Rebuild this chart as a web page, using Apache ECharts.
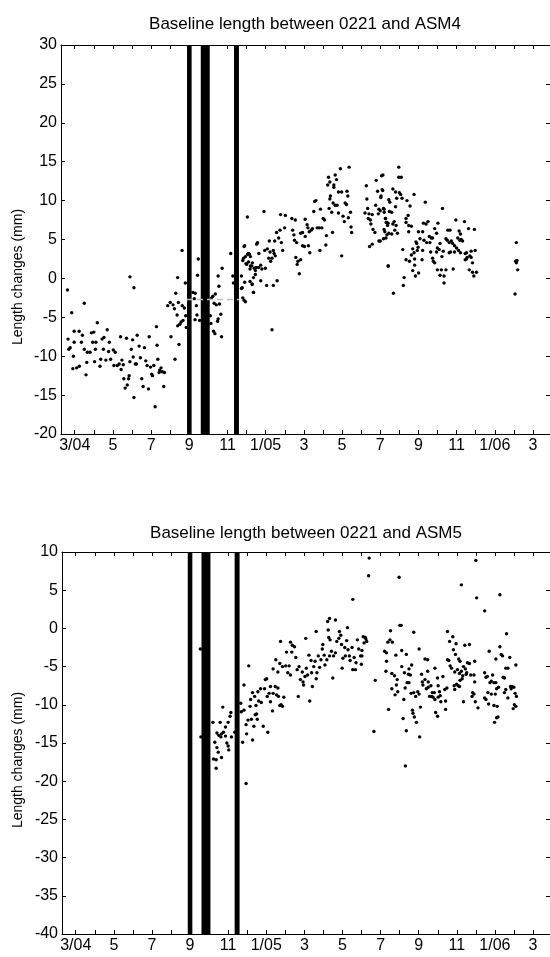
<!DOCTYPE html>
<html><head><meta charset="utf-8">
<script src="https://cdn.jsdelivr.net/npm/echarts@6/dist/echarts.min.js"></script>
<style>html,body{margin:0;padding:0;background:#fff}#c{width:550px;height:957px}</style>
</head><body><div id="c"></div>
<script>
// ---- axis ticks / labels (x = month index, 3 = March 2004) ----
const tickMonths = [3,4,5,6,7,8,9,10,11,12,13,14,15,16,17,18,19,20,21,22,23,24,25,26,27];
const labelMonths = [3,5,7,9,11,13,15,17,19,21,23,25,27];
const tickLabels = ['3/04','5','7','9','11','1/05','3','5','7','9','11','1/06','3'];
const titles = ['Baseline length between 0221 and ASM4', 'Baseline length between 0221 and ASM5'];
const yName = 'Length changes (mm)';
const asm4Range = [-20, 30];
const asm5Range = [-40, 10];
// black gap bars (month index)
const gapStarts = [8.88, 9.60, 11.34];
const gapEnds   = [9.12, 10.07, 11.60];
// faint reference line in upper panel
const asm4RefLine = [[8.88, -2.7], [11.60, -2.7]];

// ---- ASM4 baseline length changes [month, mm] ----
const asm4Points = [
[2.62,-1.5],[2.84,-4.4],[3.5,-3.2],
[2.65,-7.8],[2.97,-6.8],[3.23,-6.8],[2.76,-8.9],[2.97,-8.2],[2.69,-9.1],[2.93,-10.0],[2.9,-11.6],[3.1,-11.5],[3.24,-11.3],[3.35,-8.2],[3.4,-7.3],[3.5,-9.1],[3.59,-12.4],[3.63,-10.8],[3.66,-9.5],[3.8,-9.5],[3.87,-7.0],[3.94,-8.2],[4.0,-6.9],[4.04,-10.7],[4.08,-9.1],[4.18,-5.7],[4.11,-8.2],[4.32,-11.3],[4.36,-10.4],[4.43,-7.8],[4.5,-9.1],[4.53,-7.6],[4.63,-10.5],[4.7,-6.6],[4.77,-9.4],[4.81,-8.2],[4.88,-10.4],[5.02,-9.2],[5.05,-11.2],[5.12,-9.5],[5.23,-11.2],[5.33,-11.0],[5.4,-7.5],[5.43,-11.7],[5.47,-10.5],[5.54,-11.1],[5.57,-12.9],[5.64,-14.1],[5.71,-7.7],[5.75,-13.7],[5.82,-12.9],[5.85,-12.5],[5.89,-10.7],[5.96,-9.1],[6.03,-7.9],[6.06,-10.1],[6.1,-15.3],[6.17,-11.0],[6.23,-11.0],[6.27,-7.3],[6.37,-8.7],[6.44,-10.2],[6.51,-12.9],[6.58,-13.9],[6.65,-8.9],[6.72,-10.6],[6.79,-11.2],[6.86,-14.2],[6.9,-7.5],[6.97,-11.4],[7.03,-12.3],[7.07,-12.5],[7.14,-11.2],[7.21,-16.5],[7.28,-6.2],[7.31,-8.6],[7.35,-10.4],[7.42,-12.1],[7.45,-11.8],[7.52,-11.5],[7.59,-12.0],[7.66,-13.9],[7.7,-12.1],
[5.89,0.2],[6.1,-1.2],
[7.87,-3.5],[8.0,-3.1],[8.04,-7.5],[8.15,-3.4],[8.22,-3.9],[8.29,-1.9],[8.25,-10.4],[8.36,-4.7],[8.39,-6.1],[8.43,-3.1],[8.46,-8.5],[8.5,-5.9],[8.57,-5.6],[8.63,-3.5],[8.67,-5.4],[8.74,-3.8],[8.81,-4.8],[8.84,-6.3],[8.62,3.6],[8.79,-0.6],[8.39,0.1],
[9.19,-1.8],[9.26,-2.6],[9.3,-5.3],[9.37,-3.5],[9.43,0.4],[9.47,2.5],[9.4,-4.7],[9.54,-5.4],[9.31,-1.9],
[10.1,-4.8],[10.13,-5.8],[10.17,-2.5],[10.23,-2.3],[10.3,-3.2],[10.36,-2.0],[10.41,-3.4],[10.48,-5.5],[10.51,-5.2],[10.55,-1.0],[10.58,-3.3],[10.65,-4.6],[10.69,-7.5],[10.72,1.3],[10.27,-6.8],[10.34,-7.1],[10.51,0.3],
[11.17,3.2],[11.28,0.3],[11.31,-0.6],
[11.73,0.3],[11.8,2.3],[11.87,4.1],[11.94,2.8],[12.0,1.8],[12.1,3.2],[12.18,1.2],[12.27,1.6],[12.36,-1.8],[12.29,-0.8],[12.46,1.0],[12.53,4.4],[12.63,1.4],[11.8,-2.5],[11.94,-3.0],[11.73,-1.3],
[12.04,7.9],[12.91,8.6],[11.9,4.2],[12.05,3.1],[12.15,3.1],[12.2,2.8],[11.84,2.6],[11.97,1.9],[12.1,2.1],[12.2,1.6],[12.3,2.0],[12.4,1.3],[12.5,1.4],[12.57,4.6],[12.64,3.2],[12.74,1.7],[12.8,1.2],[12.98,1.3],[12.46,0.5],[12.36,0.1],[12.29,-0.7],[12.18,-0.4],[11.9,-0.5],[11.77,-1.2],[11.87,-2.8],[12.36,-1.8],[12.74,-0.3],[13.05,-0.9],[13.4,-0.9],[13.6,-0.3],
[12.95,3.6],[13.09,3.8],[13.19,4.8],[13.23,3.4],[13.33,2.6],[13.4,3.6],[13.5,2.9],[13.47,4.8],[13.57,5.9],[13.68,5.2],[13.75,6.2],[13.82,4.6],[13.89,3.6],[13.99,6.5],[13.78,8.2],[14.03,8.1],[13.16,2.6],[13.26,2.2],[13.44,3.2],[13.33,-6.6],
[14.37,7.7],[14.55,7.5],[14.41,6.2],[14.48,5.6],[14.51,4.9],[14.62,4.6],[14.58,2.7],[14.69,2.2],[14.83,2.4],[14.65,1.8],[14.76,0.6],[14.83,5.8],[14.93,5.9],[15.07,5.4],[14.93,4.2],[15.03,4.1],[15.07,7.6],[15.21,6.5],[15.28,6.0],[15.38,6.2],[15.17,6.9],[15.45,6.4],[15.24,4.2],[15.31,3.3],
[15.56,9.9],[15.63,10.0],[15.52,8.6],[15.7,6.5],[15.8,6.5],[15.94,6.5],[15.84,3.6],[15.87,8.9],[16.01,7.7],[16.08,7.5],[16.18,5.5],[16.15,4.3],[16.32,9.0],[16.36,10.2],[16.39,10.6],[16.46,8.5],[16.5,5.9],[16.53,9.7],[16.25,12.0],[16.29,13.0],[16.36,12.4],[16.57,11.7],[16.64,13.3],[16.71,12.7],[16.57,12.0],[16.64,9.4],[16.74,9.4],[16.81,11.1],[16.91,14.1],[16.81,8.4],[16.98,11.1],[17.05,8.0],[17.12,7.3],[17.23,9.5],[17.26,11.2],[17.3,10.6],[17.33,7.8],[17.37,14.3],[17.44,8.5],[16.98,2.9],[17.47,6.6],[17.5,5.9],[17.16,9.7],
[18.27,11.9],[18.3,10.2],[18.34,9.0],[18.2,8.4],[18.37,7.7],[18.41,8.3],[18.48,7.5],[18.58,8.2],[18.51,7.0],[18.62,6.3],[18.72,5.9],[18.76,9.4],[18.79,12.6],[18.86,11.2],[18.9,8.3],[18.93,8.9],[19.0,8.7],[19.04,10.6],[19.07,13.2],[19.14,13.3],[19.1,11.4],[19.17,9.0],[19.21,8.5],[19.28,7.7],[19.24,6.0],[19.31,7.2],[19.35,5.6],[19.38,6.8],[19.42,1.6],[18.44,4.1],[18.58,4.4],[18.93,4.8],[19.17,5.1],
[19.97,14.3],[19.97,13.0],[20.1,13.0],[19.13,11.3],[19.66,11.5],[19.8,11.1],[20.0,11.0],[20.07,10.8],[19.03,10.4],[19.45,10.1],[19.5,9.8],[19.86,10.3],[20.14,10.3],[20.4,10.0],[20.56,9.3],[20.77,10.8],[21.36,9.8],[22.26,9.0],[19.2,8.9],[19.48,8.6],[19.6,8.5],[19.8,9.2],[20.46,8.1],[19.27,7.7],[19.34,7.2],[19.41,7.1],[19.73,7.3],[19.66,7.0],[19.83,6.8],[20.35,7.7],[20.35,7.2],[20.49,6.8],[20.63,6.7],[19.2,6.3],[19.45,5.8],[19.6,5.7],[19.76,6.2],[19.9,5.8],[19.3,5.2],[19.0,4.8],
[20.49,6.0],[21.0,6.0],[21.22,6.0],[21.26,7.1],[21.4,7.0],[21.5,7.3],[22.02,7.1],[21.85,6.4],[21.95,5.8],[22.54,6.2],[22.65,6.2],[22.96,7.5],[23.41,7.3],[23.62,6.4],[23.93,6.3],[23.13,6.1],[23.2,5.7],
[20.87,4.7],[20.91,4.5],[21.08,5.1],[21.29,4.9],[21.43,4.6],[21.57,5.4],[21.67,5.2],[21.6,4.6],[21.74,5.2],[20.18,3.7],[20.7,3.8],[20.77,3.3],[20.98,4.0],[20.94,3.6],[21.22,3.6],[22.13,4.5],[21.99,3.9],[22.09,3.7],[22.44,5.1],[22.51,4.9],[22.61,4.6],[22.72,4.8],[22.79,4.5],[22.89,4.2],[23.0,3.9],[23.06,5.2],[23.17,4.9],[23.24,5.0],[23.31,4.8],
[21.64,3.4],[21.95,3.4],[22.3,3.5],[22.61,3.3],[22.68,3.4],[22.89,3.4],[23.1,3.6],[23.2,3.3],[23.45,3.2],[23.52,3.3],[23.76,3.5],[23.97,3.6],[23.69,2.9],[23.55,2.7],[23.52,2.5],[23.45,2.4],[23.76,2.7],[23.83,2.0],
[20.35,2.4],[20.53,2.2],[20.63,3.0],[20.8,2.5],[20.8,1.7],[21.19,2.4],[21.74,2.6],[21.78,2.2],[21.85,2.0],[22.23,2.8],[19.41,1.6],[20.7,1.0],[20.84,0.3],[21.01,0.7],[21.99,1.1],[22.2,1.1],[22.44,1.1],[22.82,1.2],[22.13,0.4],[22.34,0.3],[23.66,1.1],[23.83,0.8],[24.04,0.8],[23.9,0.3],[20.25,0.1],[20.21,-0.9],[22.34,-0.6],[19.69,-1.9],
[26.13,4.6],[26.09,2.2],[26.13,2.0],[26.16,2.3],[26.2,1.1],[26.06,-2.0]
];

// ---- ASM5 baseline length changes [month, mm] ----
const asm5Points = [
[9.54,-2.7],[9.57,-14.2],
[10.72,-10.3],[10.2,-12.3],[10.58,-12.3],[10.86,-12.9],[11.0,-12.3],[11.14,-11.0],[11.1,-11.5],[10.41,-13.7],[10.51,-14.0],[10.65,-13.8],[10.75,-13.6],[10.86,-14.1],[10.62,-14.2],[11.17,-14.2],[11.35,-13.6],[10.3,-14.9],[10.41,-15.6],[10.48,-16.2],[10.93,-15.0],[11.0,-15.4],[11.03,-15.9],[10.65,-16.9],[10.23,-17.1],[10.37,-17.2],[10.37,-18.3],
[11.66,-9.8],[11.69,-10.9],[11.83,-10.7],[11.94,-12.6],[11.97,-13.8],[11.76,-14.9],[12.04,-12.0],[12.15,-10.2],[12.18,-9.3],[12.22,-11.9],[12.28,-14.6],[12.35,-12.8],[12.42,-11.3],[12.46,-10.1],[12.49,-11.2],[12.53,-11.9],[12.08,-4.9],[11.83,-7.4],[11.94,-20.3],
[12.28,-8.4],[12.39,-8.9],[12.56,-8.3],[12.6,-9.5],[12.7,-7.9],[12.74,-9.7],[12.84,-12.8],[12.91,-7.9],[12.95,-6.7],[13.02,-6.6],[13.08,-13.6],[13.05,-8.9],[13.15,-8.5],[13.22,-7.6],[13.22,-9.6],[13.33,-10.8],[13.36,-8.5],[13.47,-7.6],[13.54,-8.7],[13.61,-7.8],[13.64,-8.9],[13.71,-10.1],[13.78,-10.0],[13.85,-10.2],[13.92,-9.0],
[13.36,-5.3],[13.5,-4.1],[13.61,-5.7],[13.71,-4.6],[13.75,-1.7],[13.85,-5.0],[14.02,-4.9],[14.06,-3.1],[14.13,-5.8],[14.2,-4.9],[14.27,-6.1],[14.27,-1.8],[14.37,-2.2],[14.34,-3.1],[14.48,-2.4],[14.55,-3.8],[14.62,-5.4],[14.72,-5.0],[14.79,-6.7],[14.68,-8.9],[14.89,-5.7],[14.93,-7.0],[14.96,-7.4],[15.03,-6.3],[15.07,-1.3],[15.1,-5.2],[15.17,-6.1],[15.24,-3.5],[15.28,-9.5],[15.35,-4.2],[15.38,-5.8],[15.42,-7.6],[15.49,-5.0],[15.56,-4.3],[15.62,-0.4],[15.62,-6.6],[15.66,-5.8],
[15.73,-3.6],[15.8,-5.1],[15.87,-4.1],[15.94,-2.7],[15.97,-2.1],[16.04,-3.5],[16.08,-4.8],[16.18,-4.1],[16.25,-0.2],[16.28,-1.2],[16.35,-1.5],[16.32,-3.6],[16.42,-3.0],[16.49,-6.5],[16.53,-3.6],[16.63,1.1],[16.63,-3.2],[16.7,-1.7],[16.81,-1.3],[16.84,-0.4],[16.91,-0.9],[16.95,-2.1],[16.98,-5.2],[17.02,-3.9],[17.12,-2.5],[17.15,-3.6],[17.22,-1.6],[17.26,0.1],[17.29,-2.8],[17.36,-3.6],[17.4,-4.2],[17.5,-2.5],[17.54,-5.4],[17.61,-3.8],[17.68,-5.4],[17.71,-4.5],[17.78,-1.5],[17.85,-2.7],[17.95,-3.6],[17.99,-4.7],[18.02,-2.9],[18.09,-1.1],[18.13,-1.9],[18.2,-1.2],[16.22,0.9],[16.32,1.3],[17.54,3.8],[18.37,6.9],[18.4,9.2],
[18.23,-1.4],[18.27,-1.7],[18.02,-3.6],[18.72,-6.8],[18.65,-13.5],
[19.97,6.7],[23.24,5.7],[24.0,8.9],[24.04,4.0],[24.46,2.3],[25.26,4.4],
[19.52,-0.3],[20.01,0.4],[20.08,0.4],[20.74,-0.5],[19.38,-1.8],[19.49,-1.5],[19.62,-1.8],[19.21,-3.0],[19.31,-3.2],[19.8,-3.5],[20.11,-2.9],[20.35,-3.4],[21.02,-2.7],[19.31,-4.3],[19.28,-5.6],[19.59,-5.9],[19.73,-6.2],[19.87,-6.7],[20.11,-5.0],[20.25,-5.8],[20.49,-5.3],[20.46,-6.0],[20.56,-6.1],[20.63,-4.8],
[19.59,-7.9],[19.76,-8.7],[19.83,-7.4],[19.9,-8.3],[20.29,-7.8],[20.39,-7.1],[20.49,-7.1],[20.22,-9.3],[20.6,-8.5],[20.74,-8.4],[20.84,-8.9],[20.95,-8.3],[21.02,-8.6],[21.15,-6.0],[21.19,-7.0],[21.22,-7.4],[21.33,-6.7],[21.33,-4.0],[21.47,-4.1],[21.47,-5.6],[21.4,-7.9],[21.5,-7.0],[21.5,-7.7],[21.64,-7.5],[21.68,-8.9],[21.57,-8.9],[21.75,-9.0],[21.71,-8.4],[21.82,-8.4],[21.85,-5.2],[21.99,-6.5],[22.02,-7.5],[22.09,-8.3],[22.13,-8.8],[22.16,-9.6],[22.27,-6.3],[22.37,-8.0],[22.02,-9.0],[21.85,-9.3],[22.48,-7.8],[22.41,-9.5],
[20.18,-11.8],[20.35,-13.4],[20.67,-10.7],[20.7,-11.1],[20.77,-11.6],[20.88,-12.3],[21.09,-10.3],[21.05,-14.2],[21.89,-11.0],[21.99,-11.5],[22.41,-10.6],[19.42,-10.6],[20.3,-18.0],
[22.51,-0.4],[22.62,-1.7],[22.79,-1.1],[22.96,-2.0],[22.82,-2.8],[22.93,-3.4],[23.1,-4.0],[23.17,-4.3],[22.51,-4.1],[22.58,-4.2],[22.65,-4.9],[22.72,-5.2],[22.89,-5.7],[23.03,-5.4],[23.14,-5.9],[23.24,-5.6],[23.42,-2.2],[23.66,-2.1],[23.35,-5.0],[23.45,-5.3],[23.52,-5.8],[23.56,-4.5],[23.66,-4.6],[23.73,-6.1],[23.31,-6.2],[23.17,-6.8],[23.07,-7.5],[23.28,-6.6],[23.49,-6.0],[23.94,-4.3],[23.9,-6.1],[23.94,-7.0],[23.83,-8.4],[23.8,-8.9],[23.9,-8.6],[23.97,-9.6],[24.11,-10.4],[23.35,-9.6],[22.89,-8.0],[22.99,-7.3],[22.86,-7.5],[23.14,-7.6],
[24.46,-5.8],[24.53,-6.4],[24.6,-6.3],[24.7,-3.0],[24.74,-7.1],[24.81,-6.9],[24.88,-6.1],[24.95,-7.1],[25.05,-7.1],[25.05,-4.0],[25.26,-2.4],[25.33,-3.4],[25.4,-3.6],[25.43,-6.4],[25.5,-6.5],[25.61,-0.7],[25.57,-5.2],[25.68,-5.2],[25.78,-3.8],[25.82,-7.6],[25.89,-7.6],[25.99,-7.7],[26.1,-4.8],[26.06,-8.5],[26.13,-8.9],[26.02,-10.0],[26.1,-10.2],[25.96,-10.5],[25.85,-7.9],[25.57,-8.0],[25.68,-9.1],[25.5,-8.4],[25.19,-7.7],[25.09,-7.9],[25.02,-8.6],[24.81,-8.6],[24.63,-8.4],[24.53,-9.3],[24.67,-9.9],[24.95,-10.1],[25.12,-10.2],[25.16,-11.6],[25.09,-11.7],[24.98,-12.3],[24.46,-9.1]
];

// ---- build chart ----
const FONT = 'Liberation Sans, Arial, Helvetica, sans-serif';
const X_MIN = 2.28, X_MAX = 27.89;
const black = '#000';
function xAxes(g) {
  const base = {
    type: 'value', gridIndex: g, min: X_MIN, max: X_MAX,
    axisLine: { show: true, onZero: false, lineStyle: { color: black, width: 1 } },
    axisTick: { show: true, inside: true, length: 4, customValues: tickMonths, lineStyle: { color: black } },
    splitLine: { show: false }
  };
  return [
    Object.assign({}, base, { position: 'bottom',
      axisLabel: { customValues: labelMonths, formatter: v => tickLabels[labelMonths.indexOf(Math.round(v))],
        fontSize: 16, color: black, fontFamily: FONT, margin: 4 } }),
    Object.assign({}, base, { position: 'top', axisLabel: { show: false } })
  ];
}
function yAxes(g, r) {
  const base = {
    type: 'value', gridIndex: g, min: r[0], max: r[1], interval: 5,
    axisLine: { show: true, onZero: false, lineStyle: { color: black, width: 1 } },
    axisTick: { show: true, inside: true, length: 4, lineStyle: { color: black } },
    splitLine: { show: false }
  };
  return [
    Object.assign({}, base, { position: 'left',
      axisLabel: { fontSize: 16, color: black, fontFamily: FONT, margin: 4 } }),
    Object.assign({}, base, { position: 'right', axisLabel: { show: false } })
  ];
}
const gapAreas = gapStarts.map((s, i) => [{ xAxis: s }, { xAxis: gapEnds[i] }]);
function scatter(xi, yi, data) {
  return {
    type: 'scatter', xAxisIndex: xi, yAxisIndex: yi, data: data,
    symbol: 'circle', symbolSize: 3.4, itemStyle: { color: black, opacity: 1 },
    silent: true, animation: false,
    markArea: { silent: true, itemStyle: { color: black, opacity: 1 }, data: gapAreas }
  };
}
const chart = echarts.init(document.getElementById('c'), null, { renderer: 'canvas' });
chart.setOption({
  animation: false,
  backgroundColor: '#fff',
  grid: [
    { left: 61, right: 0, top: 45, height: 389 },
    { left: 62, right: 0, top: 552, height: 382 }
  ],
  xAxis: xAxes(0).concat(xAxes(1)),
  yAxis: yAxes(0, asm4Range).concat(yAxes(1, asm5Range)),
  series: [
    scatter(0, 0, asm4Points),
    scatter(2, 2, asm5Points),
    { type: 'line', xAxisIndex: 0, yAxisIndex: 0, data: asm4RefLine, symbol: 'none', z: 5,
      lineStyle: { color: '#bbbbbb', width: 1.5, type: [6, 4] }, silent: true, animation: false }
  ],
  graphic: [
    { type: 'text', x: 305, y: 24, style: { text: titles[0], font: '17px ' + FONT, fill: black, textAlign: 'center', textVerticalAlign: 'middle' } },
    { type: 'text', x: 306, y: 533, style: { text: titles[1], font: '17px ' + FONT, fill: black, textAlign: 'center', textVerticalAlign: 'middle' } },
    { type: 'text', x: 18, y: 277, rotation: Math.PI / 2, style: { text: yName, font: '14px ' + FONT, fill: black, textAlign: 'center', textVerticalAlign: 'middle' } },
    { type: 'text', x: 18, y: 760, rotation: Math.PI / 2, style: { text: yName, font: '14px ' + FONT, fill: black, textAlign: 'center', textVerticalAlign: 'middle' } }
  ]
});
</script>
</body></html>
